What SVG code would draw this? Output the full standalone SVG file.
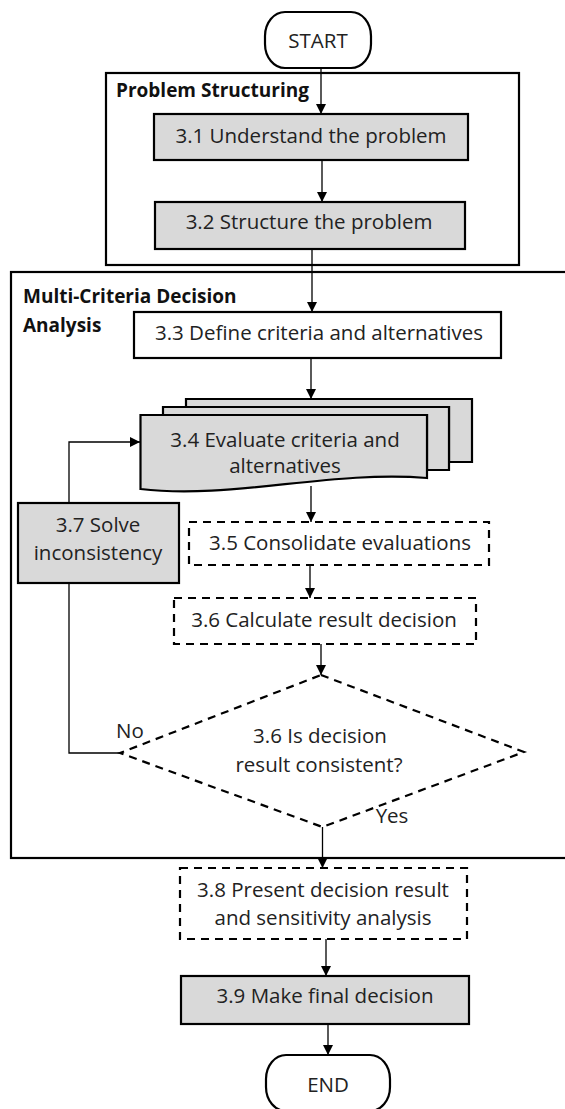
<svg xmlns="http://www.w3.org/2000/svg" width="565" height="1109" viewBox="0 0 565 1109">
<style>
.t{font-family:"Open Sans","Noto Sans",sans-serif;font-size:20.5px;fill:#222;text-anchor:middle}
.h{font-family:"Open Sans","Noto Sans",sans-serif;font-size:19px;font-weight:bold;fill:#111}
.box{stroke:#000;stroke-width:2.2}
.grey{fill:#d9d9d9}
.white{fill:#fff}
.dash{fill:#fff;stroke:#000;stroke-width:2.2;stroke-dasharray:8 6}
.cont{fill:none;stroke:#000;stroke-width:2.2}
.con{fill:none;stroke:#000;stroke-width:1.3}
</style>
<defs>
<marker id="ah" viewBox="0 0 10 10" refX="10" refY="5" markerWidth="10" markerHeight="10" markerUnits="userSpaceOnUse" orient="auto">
<path d="M0,0 L10,5 L0,10 Z" fill="#000"/>
</marker>
</defs>
<rect width="565" height="1109" fill="#fff"/>

<g id="problem-structuring">
<rect class="cont" x="106" y="73" width="413" height="192"/>
<text class="h" x="116" y="97">Problem Structuring</text>
</g>
<g id="mcda">
<rect class="cont" x="11" y="272" width="570" height="586"/>
<text class="h" x="23" y="303">Multi-Criteria Decision</text>
<text class="h" x="23" y="332">Analysis</text>
</g>

<g id="connectors">
<line class="con" x1="321" y1="68" x2="321" y2="114" marker-end="url(#ah)"/>
<line class="con" x1="322" y1="160" x2="322" y2="202" marker-end="url(#ah)"/>
<line class="con" x1="312" y1="249" x2="312" y2="312" marker-end="url(#ah)"/>
<line class="con" x1="311" y1="358" x2="311" y2="399" marker-end="url(#ah)"/>
<line class="con" x1="311" y1="486" x2="311" y2="522" marker-end="url(#ah)"/>
<line class="con" x1="310" y1="565" x2="310" y2="598" marker-end="url(#ah)"/>
<line class="con" x1="321" y1="644" x2="321" y2="675" marker-end="url(#ah)"/>
<line class="con" x1="322.5" y1="827" x2="322.5" y2="868" marker-end="url(#ah)"/>
<line class="con" x1="326" y1="939" x2="326" y2="976" marker-end="url(#ah)"/>
<line class="con" x1="328" y1="1024" x2="328" y2="1055" marker-end="url(#ah)"/>
<polyline class="con" points="120,753 69,753 69,442 140,442" marker-end="url(#ah)"/>
<text class="t" x="130" y="738">No</text>
<text class="t" x="392" y="823">Yes</text>
</g>

<g id="start">
<rect class="box white" x="265" y="12" width="106" height="56" rx="20" ry="24"/>
<text class="t" x="318" y="48">START</text>
</g>
<g id="n31">
<rect class="box grey" x="154" y="114" width="314" height="46"/>
<text class="t" x="311" y="143">3.1 Understand the problem</text>
</g>
<g id="n32">
<rect class="box grey" x="155" y="202" width="310" height="47"/>
<text class="t" x="309" y="229">3.2 Structure the problem</text>
</g>
<g id="n33">
<rect class="box white" x="134" y="312" width="367" height="46"/>
<text class="t" x="319" y="340">3.3 Define criteria and alternatives</text>
</g>
<g id="n34">
<path class="box grey" d="M186,399 H472 V462 H449 V407 H186 Z"/>
<path class="box grey" d="M163,407 H449 V470 H427 V415 H163 Z"/>
<path class="box grey" d="M140.5,415 H427 V478 C330,470 230,500 140.5,489 Z"/>
<text class="t" x="285" y="447">3.4 Evaluate criteria and</text>
<text class="t" x="285" y="473">alternatives</text>
</g>
<g id="n37">
<rect class="box grey" x="18" y="503" width="161" height="80"/>
<text class="t" x="98" y="532">3.7 Solve</text>
<text class="t" x="98" y="560">inconsistency</text>
</g>
<g id="n35">
<rect class="dash" x="189" y="522" width="300" height="43"/>
<text class="t" x="340" y="550">3.5 Consolidate evaluations</text>
</g>
<g id="n36">
<rect class="dash" x="174" y="598" width="302" height="46"/>
<text class="t" x="324" y="627">3.6 Calculate result decision</text>
</g>
<g id="d36">
<polygon class="dash" style="fill:none" points="321,675 524,752 322.5,827 120,753"/>
<text class="t" x="320" y="743">3.6 Is decision</text>
<text class="t" x="319" y="772">result consistent?</text>
</g>
<g id="n38">
<rect class="dash" x="180" y="868" width="287" height="71"/>
<text class="t" x="323" y="897">3.8 Present decision result</text>
<text class="t" x="323" y="925">and sensitivity analysis</text>
</g>
<g id="n39">
<rect class="box grey" x="181" y="976" width="288" height="48"/>
<text class="t" x="325" y="1003">3.9 Make final decision</text>
</g>
<g id="end">
<rect class="box white" x="266" y="1055" width="124" height="56" rx="20" ry="24"/>
<text class="t" x="328" y="1092">END</text>
</g>
</svg>
